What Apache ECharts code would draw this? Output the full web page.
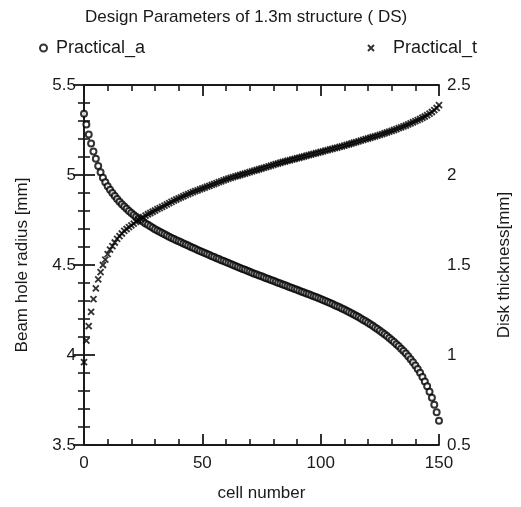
<!DOCTYPE html>
<html>
<head>
<meta charset="utf-8">
<script src="https://cdn.jsdelivr.net/npm/echarts@6/dist/echarts.min.js"></script>
<style>
  html, body { margin: 0; padding: 0; background: #fff; }
  #chart { width: 521px; height: 507px; }
</style>
</head>
<body>
<div id="chart"></div>
<script>
// Beam hole radius a [mm] for cells 0..150
const practicalA = [
  5.34, 5.28, 5.225, 5.175, 5.13, 5.09, 5.05, 5.015, 4.985, 4.96,
  4.938, 4.918, 4.90, 4.883, 4.867, 4.852, 4.838, 4.825, 4.812, 4.80,
  4.789, 4.778, 4.768, 4.758, 4.749, 4.740, 4.731, 4.723, 4.715, 4.707,
  4.699, 4.692, 4.685, 4.678, 4.671, 4.664, 4.657, 4.650, 4.644, 4.638,
  4.632, 4.626, 4.620, 4.614, 4.608, 4.602, 4.596, 4.590, 4.584, 4.578,
  4.572, 4.566, 4.561, 4.555, 4.549, 4.544, 4.538, 4.533, 4.527, 4.522,
  4.516, 4.511, 4.505, 4.500, 4.494, 4.489, 4.484, 4.478, 4.473, 4.468,
  4.462, 4.457, 4.452, 4.447, 4.442, 4.437, 4.432, 4.427, 4.422, 4.417,
  4.412, 4.407, 4.402, 4.397, 4.392, 4.387, 4.382, 4.377, 4.372, 4.367,
  4.362, 4.357, 4.352, 4.347, 4.342, 4.337, 4.332, 4.327, 4.322, 4.317,
  4.311, 4.306, 4.300, 4.295, 4.289, 4.283, 4.277, 4.271, 4.265, 4.259,
  4.253, 4.246, 4.239, 4.232, 4.225, 4.218, 4.211, 4.203, 4.195, 4.187,
  4.179, 4.171, 4.162, 4.153, 4.144, 4.135, 4.125, 4.115, 4.105, 4.094,
  4.083, 4.072, 4.060, 4.048, 4.035, 4.022, 4.008, 3.993, 3.977, 3.960,
  3.942, 3.922, 3.901, 3.878, 3.853, 3.826, 3.796, 3.762, 3.724, 3.682,
  3.635
];

// Disk thickness t [mm] for cells 0..150
const practicalT = [
  0.96, 1.08, 1.16, 1.24, 1.31, 1.37, 1.42, 1.46, 1.50, 1.53,
  1.56, 1.585, 1.605, 1.625, 1.645, 1.66, 1.675, 1.69, 1.70, 1.71,
  1.72, 1.73, 1.74, 1.75, 1.758, 1.766, 1.774, 1.782, 1.789, 1.796,
  1.803, 1.81, 1.816, 1.823, 1.83, 1.837, 1.844, 1.851, 1.858, 1.864,
  1.870, 1.876, 1.882, 1.888, 1.894, 1.899, 1.905, 1.910, 1.915, 1.920,
  1.925, 1.930, 1.935, 1.940, 1.945, 1.950, 1.955, 1.960, 1.965, 1.970,
  1.975, 1.980, 1.984, 1.988, 1.992, 1.996, 2.000, 2.004, 2.008, 2.012,
  2.016, 2.020, 2.024, 2.028, 2.032, 2.036, 2.040, 2.044, 2.048, 2.052,
  2.056, 2.060, 2.064, 2.068, 2.072, 2.075, 2.079, 2.082, 2.086, 2.089,
  2.093, 2.096, 2.100, 2.103, 2.107, 2.110, 2.114, 2.117, 2.121, 2.124,
  2.128, 2.131, 2.135, 2.138, 2.142, 2.145, 2.149, 2.152, 2.156, 2.159,
  2.163, 2.167, 2.171, 2.175, 2.179, 2.183, 2.187, 2.191, 2.195, 2.199,
  2.203, 2.207, 2.211, 2.215, 2.219, 2.223, 2.227, 2.232, 2.236, 2.241,
  2.245, 2.250, 2.255, 2.260, 2.265, 2.270, 2.275, 2.281, 2.287, 2.293,
  2.299, 2.305, 2.311, 2.318, 2.325, 2.333, 2.341, 2.350, 2.360, 2.372,
  2.388
];

const seriesNames = ['Practical_a', 'Practical_t'];
const titleText = 'Design Parameters of 1.3m structure ( DS)';
const xName = 'cell number';
const yLeftName = 'Beam hole radius [mm]';
const yRightName = 'Disk thickness[mm]';

const FONT = 'Liberation Sans, Arial, Helvetica, sans-serif';
const INK = '#1a1a1a';
const CROSS = 'path://M0,0L10,10M10,0L0,10';

const pointsA = practicalA.map((v, i) => [i, v]);
const pointsT = practicalT.map((v, i) => [i, v]);

const tickStyle = {
  axisLine: { show: true, lineStyle: { color: INK, width: 1.8 } },
  axisTick: { show: true, inside: true, length: 11, lineStyle: { color: INK, width: 1.8 } },
  minorTick: { show: true, splitNumber: 5, length: 6, lineStyle: { color: INK, width: 1.6 } },
  splitLine: { show: false },
  minorSplitLine: { show: false }
};

const chart = echarts.init(document.getElementById('chart'), null, { renderer: 'canvas' });

chart.setOption({
  backgroundColor: '#fff',
  animation: false,
  textStyle: { fontFamily: FONT },
  title: {
    text: titleText,
    left: 80,
    top: 4,
    textStyle: { fontFamily: FONT, fontSize: 17, fontWeight: 'normal', color: INK }
  },
  legend: [
    {
      data: [{ name: seriesNames[0], icon: 'emptyCircle' }],
      left: 34, top: 34,
      itemWidth: 7, itemHeight: 7, itemGap: 10,
      textStyle: { fontFamily: FONT, fontSize: 18, color: INK, padding: [0, 0, 0, 4] }
    },
    {
      data: [{ name: seriesNames[1], icon: CROSS }],
      left: 362, top: 34,
      itemWidth: 6, itemHeight: 6, itemGap: 10,
      textStyle: { fontFamily: FONT, fontSize: 18, color: INK, padding: [0, 0, 0, 14] }
    }
  ],
  grid: { left: 84, right: 81, top: 85, bottom: 58, containLabel: false },
  xAxis: [
    Object.assign({
      type: 'value', position: 'bottom', min: 0, max: 150, interval: 50,
      name: xName, nameLocation: 'middle', nameGap: 40,
      nameTextStyle: { fontFamily: FONT, fontSize: 17, color: INK },
      axisLabel: { fontFamily: FONT, fontSize: 17, color: INK, margin: 10 }
    }, tickStyle),
    Object.assign({
      type: 'value', position: 'top', min: 0, max: 150, interval: 50,
      axisLabel: { show: false }
    }, tickStyle)
  ],
  yAxis: [
    Object.assign({
      type: 'value', position: 'left', min: 3.5, max: 5.5, interval: 0.5,
      name: yLeftName, nameLocation: 'middle', nameGap: 53,
      nameTextStyle: { fontFamily: FONT, fontSize: 17, color: INK },
      axisLabel: { fontFamily: FONT, fontSize: 17, color: INK, margin: 8 }
    }, tickStyle),
    Object.assign({
      type: 'value', position: 'right', min: 0.5, max: 2.5, interval: 0.5,
      name: yRightName, nameLocation: 'middle', nameGap: 57,
      nameTextStyle: { fontFamily: FONT, fontSize: 17, color: INK },
      axisLabel: { fontFamily: FONT, fontSize: 17, color: INK, margin: 8 }
    }, tickStyle)
  ],
  series: [
    {
      name: seriesNames[0],
      type: 'scatter',
      xAxisIndex: 0, yAxisIndex: 0,
      symbol: 'emptyCircle',
      symbolSize: 6,
      itemStyle: { color: '#000', borderColor: '#000', borderWidth: 1.9 },
      data: pointsA
    },
    {
      name: seriesNames[1],
      type: 'scatter',
      xAxisIndex: 0, yAxisIndex: 1,
      symbol: CROSS,
      symbolSize: 6,
      itemStyle: { color: 'transparent', borderColor: '#000', borderWidth: 1.9 },
      data: pointsT
    }
  ]
});
</script>
</body>
</html>
